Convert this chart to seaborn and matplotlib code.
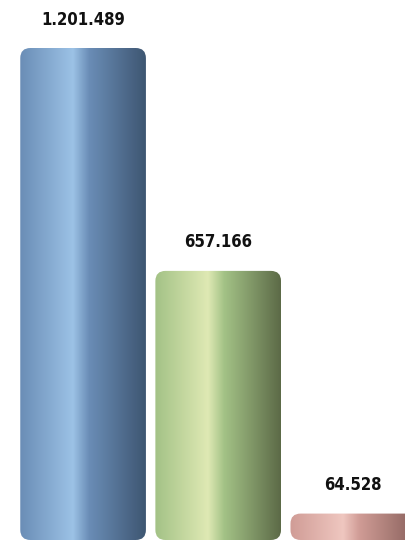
import numpy as np
import pandas as pd
import matplotlib
matplotlib.use("Agg")
import matplotlib.pyplot as plt
from matplotlib.colors import LinearSegmentedColormap
from matplotlib.patches import FancyBboxPatch
import seaborn as sns

# values
categories = ["A", "B", "C"]
values = [1201489, 657166, 64528]
labels = ["1.201.489", "657.166", "64.528"]
bar_colors = ["#6d91bb", "#a9c68c", "#d4a29c"]
# left / highlight / right shades for each bar
shades = [
    ["#6a8db6", "#9cc2e6", "#3e5672"],
    ["#a3c286", "#dfe9b4", "#5c6a47"],
    ["#d09c96", "#efc7c0", "#8a625d"],
]

sns.set_theme(style="white")
plt.rcParams['font.family'] = ['DejaVu Sans']

df = pd.DataFrame({"cat": categories, "val": values})

fig = plt.figure(figsize=(4.06, 5.59), dpi=100)
ax = fig.add_axes([0, 0, 1, 1])
sns.barplot(data=df, x="cat", y="val", hue="cat", palette=bar_colors,
            width=0.93, legend=False, ax=ax)

ymax = 1201489 * 540 / 492
ax.set_xlim(-0.615, 2.39)
ax.set_ylim(-1201489 * 19 / 492, ymax)

bars = [p for p in ax.patches if p.get_height() > 0]
bars.sort(key=lambda p: p.get_x())

# pixels -> data units, to keep corners round
aspect = (ymax + 1201489 * 19 / 492) / 559 * (406 / (2.39 + 0.615))

# shaded look: gradient clipped to a rounded copy of each bar
for patch, sh, lab in zip(bars, shades, labels):
    x0, y0 = patch.get_x(), patch.get_y()
    w, h = patch.get_width(), patch.get_height()
    rbox = FancyBboxPatch((x0, y0), w, h, boxstyle="round,pad=0,rounding_size=0.075",
                          mutation_aspect=aspect, facecolor="none", edgecolor="none")
    ax.add_patch(rbox)
    cmap = LinearSegmentedColormap.from_list("g", [(0, sh[0]), (0.42, sh[1]), (0.55, sh[0]), (1, sh[2])])
    grad = np.linspace(0, 1, 256).reshape(1, -1)
    im = ax.imshow(grad, cmap=cmap, aspect="auto", extent=[x0, x0 + w, y0, y0 + h],
                   zorder=patch.get_zorder() + 0.1)
    im.set_clip_path(rbox)
    patch.set_alpha(0)
    ax.annotate(lab, (x0 + w / 2, y0 + h), xytext=(0, 14), textcoords="offset points",
                ha="center", va="bottom", fontsize=12, fontweight="bold",
                fontstretch="condensed", color="#111111")

ax.set_xlim(-0.615, 2.39)
ax.set_ylim(-1201489 * 19 / 492, ymax)
ax.set_axis_off()
fig.savefig("out.png", dpi=100)
